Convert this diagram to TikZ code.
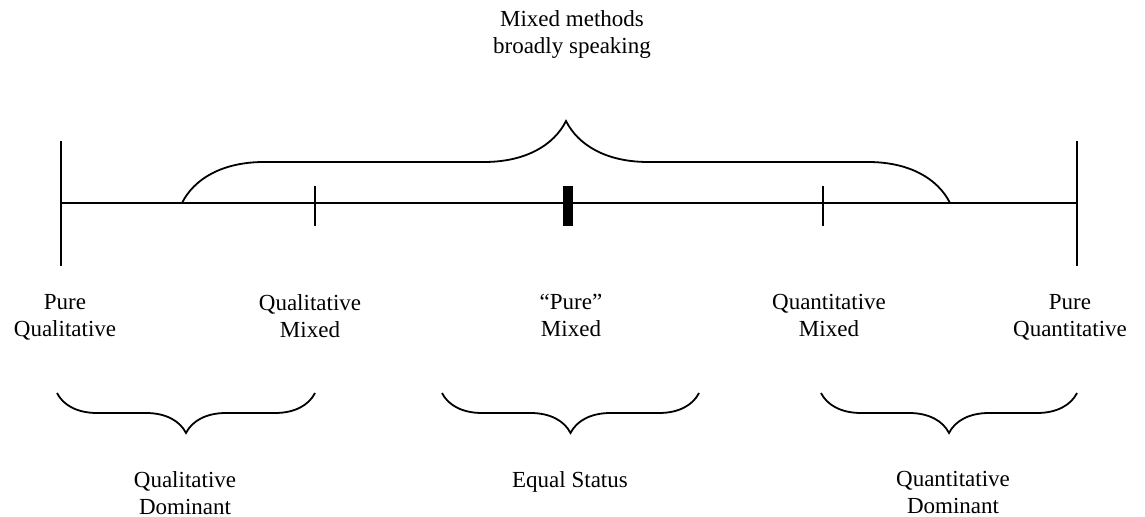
\documentclass[tikz,border=0pt]{standalone}
\usepackage{fontspec}
\setmainfont{Liberation Serif}
\usetikzlibrary{decorations.pathreplacing}

\begin{document}
\begin{tikzpicture}[x=0.5pt,y=-0.5pt,line width=0.9pt,lbl/.style={anchor=north,align=center,font=\fontsize{11.5}{13.4}\selectfont},brc/.style={decorate,decoration={brace,amplitude=#1}}]
\useasboundingbox (0,0) rectangle (1145,517);
% continuum
\coordinate (pql) at (61,203); \coordinate (pqn) at (1077,203);
\coordinate (qlm) at (315,203); \coordinate (pmx) at (568,203); \coordinate (qnm) at (823,203);
\draw (pql)--(pqn);
\draw (pql)++(0,-62)--++(0,125); \draw (pqn)++(0,-62)--++(0,125);
\draw (qlm)++(0,-17)--++(0,40); \draw (qnm)++(0,-17)--++(0,40);
\draw[line width=5pt] (pmx)++(0,-17)--++(0,40);
% braces
\coordinate (ta) at (182,203); \coordinate (tb) at (950,203);
\coordinate (la) at (57,393); \coordinate (lb) at (315,393);
\coordinate (ma) at (442,393); \coordinate (mb) at (699,393);
\coordinate (ra) at (821,393); \coordinate (rb) at (1077,393);
\draw[brc=41pt] (ta)--(tb);
\draw[brc=20pt] (lb)--(la); \draw[brc=20pt] (mb)--(ma); \draw[brc=20pt] (rb)--(ra);
% labels
\node[lbl] (mmb) at (572,3) {Mixed methods\\broadly speaking};
\node[lbl] (lpql) at (65,287) {Pure\\Qualitative};
\node[lbl] (lqlm) at (310,287) {Qualitative\\Mixed};
\node[lbl] (lpmx) at (571,287) {“Pure”\\Mixed};
\node[lbl] (lqnm) at (829,287) {Quantitative\\Mixed};
\node[lbl] (lpqn) at (1070,287) {Pure\\Quantitative};
\node[lbl] (lqld) at (185,464) {Qualitative\\Dominant};
\node[lbl] (leqs) at (570,464) {Equal Status};
\node[lbl] (lqnd) at (953,464) {Quantitative\\Dominant};
\end{tikzpicture}
\end{document}
